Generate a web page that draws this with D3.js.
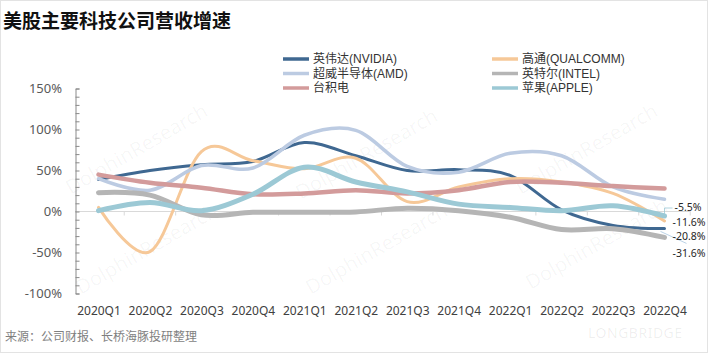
<!DOCTYPE html>
<html>
<head>
<meta charset="utf-8">
<script src="https://cdn.jsdelivr.net/npm/d3@7/dist/d3.min.js"></script>
<style>
  html, body { margin: 0; padding: 0; background: #fff; }
  svg { display: block; }
</style>
</head>
<body>
<svg id="chart" width="708" height="353"></svg>
<script>
// ---------------- data ----------------
const categories = ["2020Q1","2020Q2","2020Q3","2020Q4","2021Q1","2021Q2","2021Q3","2021Q4","2022Q1","2022Q2","2022Q3","2022Q4"];
const nvidia   = [39, 50, 57, 61, 84, 68, 50, 51, 44, 2, -17, -20.8];
const qualcomm = [5, -49, 73, 62, 52, 65, 12, 30, 40, 36, 22, -11.6];
const amd      = [40, 26, 56, 53, 93, 99, 55, 48, 71, 68, 30, 15];
const intel    = [23, 20, -4, -1, -1, -0.5, 4, 1, -7, -22, -21, -31.6];
const tsmc     = [45, 35, 29, 21, 22, 26, 22, 26, 36, 35, 31, 28];
const apple    = [1, 11, 1, 21, 54, 36, 24, 9, 5, 1, 7, -5.5];
const seriesNames = ["英伟达(NVIDIA)","高通(QUALCOMM)","超威半导体(AMD)","英特尔(INTEL)","台积电","苹果(APPLE)"];
const yTicks = [-100, -50, 0, 50, 100, 150];
const title = "美股主要科技公司营收增速";
const source = "来源：公司财报、长桥海豚投研整理";

// ---------------- styles ----------------
const series = [
  {name: seriesNames[0], values: nvidia,   color: "#3f6891", width: 3},
  {name: seriesNames[1], values: qualcomm, color: "#f6c898", width: 3},
  {name: seriesNames[2], values: amd,      color: "#bccbe2", width: 3.5},
  {name: seriesNames[3], values: intel,    color: "#b5b5b5", width: 5},
  {name: seriesNames[4], values: tsmc,     color: "#d39b9b", width: 4.5},
  {name: seriesNames[5], values: apple,    color: "#9cc9d5", width: 5}
];

const svg = d3.select("#chart");
const FONT = "'Noto Sans', 'Noto Sans CJK SC', sans-serif";
const CJK = "'Noto Sans CJK SC', 'Noto Sans', sans-serif";
const LEG = "'Liberation Sans', 'Noto Sans CJK SC', sans-serif";

// border
svg.append("rect").attr("x", 0.5).attr("y", 0.5).attr("width", 707).attr("height", 352)
  .attr("fill", "#fff").attr("stroke", "#e3e3e3");

// watermarks
const wm = svg.append("g").attr("pointer-events", "none");
[[140, 155], [370, 160], [590, 155], [150, 255], [380, 255], [600, 250]].forEach(([wx, wy]) => {
  wm.append("text").attr("transform", `translate(${wx},${wy}) rotate(-30)`)
    .attr("text-anchor", "middle").attr("font-family", FONT).attr("font-size", 20)
    .attr("fill", "#000").attr("fill-opacity", 0.04).text("DolphinResearch");
});
wm.append("text").attr("x", 588).attr("y", 338).attr("text-anchor", "start")
  .attr("font-family", FONT).attr("font-size", 14).attr("fill", "#000").attr("fill-opacity", 0.07)
  .attr("letter-spacing", 0.5).text("LONGBRIDGE");

// scales
const x = d3.scalePoint().domain(categories).range([98.5, 664.5]);
const y = d3.scaleLinear().domain([-100, 150]).range([293.5, 88.5]);
const step = x.step();

// title
svg.append("text").attr("x", 3).attr("y", 28).attr("font-family", CJK).attr("font-size", 19)
  .attr("font-weight", "bold").attr("fill", "#111").text(title);

// zero line
svg.append("line").attr("x1", 75).attr("x2", x(categories[categories.length-1]) + step/2)
  .attr("y1", y(0)).attr("y2", y(0)).attr("stroke", "#d9d9d9").attr("stroke-width", 1);
svg.append("g").selectAll("line").data(d3.range(categories.length))
  .join("line")
  .attr("x1", i => x(categories[i]) + step/2).attr("x2", i => x(categories[i]) + step/2)
  .attr("y1", y(0)).attr("y2", y(0) + 4).attr("stroke", "#d9d9d9");

// y axis
const yAxis = d3.axisRight(y).tickValues(d3.range(-100, 151, 10)).tickSize(4).tickFormat("");
const gy = svg.append("g").attr("transform", "translate(75.5,0)").call(yAxis);
gy.select(".domain").attr("stroke", "#8a8a8a");
gy.selectAll(".tick line").attr("stroke", "#8a8a8a");

svg.append("g").selectAll("text").data(yTicks).join("text")
  .attr("x", 62).attr("y", d => y(d)).attr("dy", "0.35em").attr("text-anchor", "end")
  .attr("font-family", FONT).attr("font-size", 13).attr("fill", "#595959")
  .text(d => d + "%");

// x labels
const xAxis = d3.axisBottom(x).tickSize(0).tickPadding(0);
const gx = svg.append("g").attr("transform", "translate(0,305)").call(xAxis);
gx.select(".domain").remove();
gx.selectAll("text").attr("font-family", FONT).attr("font-size", 12).attr("fill", "#404040")
  .attr("dy", "0.35em").attr("y", 6);

// lines
const line = d3.line().x((d, i) => x(categories[i])).y(d => y(d)).curve(d3.curveCardinal.tension(0));
svg.append("g").selectAll("path").data(series).join("path")
  .attr("d", s => line(s.values)).attr("fill", "none")
  .attr("stroke", s => s.color).attr("stroke-width", s => s.width)
  .attr("stroke-linecap", "round").attr("stroke-linejoin", "round");

// end labels
const xEnd = x(categories[categories.length-1]);
const last = arr => arr[arr.length-1];
const endLabels = [
  {v: last(apple),    dx: 10, dy: -9},
  {v: last(qualcomm), dx: 8,  dy: 1},
  {v: last(nvidia),   dx: 8,  dy: 8},
  {v: last(intel),    dx: 8,  dy: 16}
];
// leader lines
svg.append("path")
  .attr("d", `M${xEnd},${y(last(apple))}V${y(last(apple)) - 8}H${xEnd + 8}`)
  .attr("fill", "none").attr("stroke", "#9cc9d5").attr("stroke-width", 0.8);
svg.append("line").attr("x1", xEnd - 4).attr("y1", y(last(intel)) - 6)
  .attr("x2", xEnd + 22).attr("y2", y(last(intel)) + 6)
  .attr("stroke", "#a9c6e0").attr("stroke-width", 0.8);

svg.append("g").selectAll("text").data(endLabels).join("text")
  .attr("x", d => xEnd + d.dx).attr("y", d => y(d.v) + d.dy).attr("dy", "0.35em")
  .attr("font-family", FONT).attr("font-size", 10.5).attr("fill", "#262626")
  .text(d => d.v.toFixed(1) + "%");

// legend
const legendPos = [[283, 59], [492, 59], [283, 73.5], [492, 73.5], [283, 88], [492, 88]];
const lg = svg.append("g").selectAll("g").data(series).join("g")
  .attr("transform", (d, i) => `translate(${legendPos[i][0]},${legendPos[i][1]})`);
lg.append("line").attr("x1", 0).attr("x2", 26).attr("y1", 0).attr("y2", 0)
  .attr("stroke", d => d.color).attr("stroke-width", 3.5);
lg.append("text").attr("x", 30).attr("y", 0).attr("dy", "0.35em")
  .attr("font-family", LEG).attr("font-size", 12).attr("fill", "#333").text(d => d.name);

// source
svg.append("text").attr("x", 5).attr("y", 337).attr("dy", "0.35em")
  .attr("font-family", CJK).attr("font-size", 12).attr("fill", "#7f7f7f").text(source);
</script>
</body>
</html>
